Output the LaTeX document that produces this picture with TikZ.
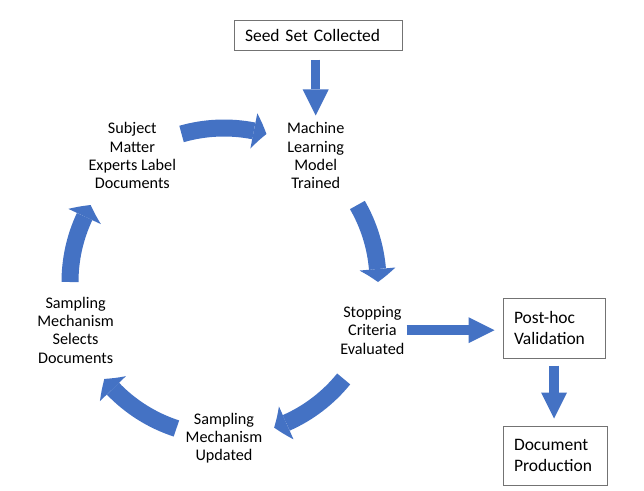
\documentclass[tikz,border=0pt]{standalone}
\usepackage{fontspec}
\setmainfont{Carlito}
\usetikzlibrary{arrows.meta,bending}
\definecolor{officeblue}{HTML}{4472C4}
\begin{document}
\begin{tikzpicture}[x=1pt,y=1pt,
    cyclabel/.style={align=center,inner sep=2pt,font=\fontsize{16.2}{18.3}\selectfont},
    stagebox/.style={draw=black!55,line width=1pt,align=left,inner xsep=11pt,
        font=\fontsize{17.5}{21}\selectfont},
    cyc/.style={officeblue,line width=17pt,
        -{Triangle[width=36pt,length=13pt,line width=0pt,bend]}},
    flow/.style={officeblue,line width=9.5pt,
        -{Triangle[width=26pt,length=26pt,line width=0pt]}}]
        \useasboundingbox (0,0) rectangle (644,-490);
        \coordinate (hub) at (224,-282);
        % cycle stages
        \node[cyclabel] (ml)   at ([shift={(54:156pt)}]hub)  {Machine\\Learning\\Model\\Trained};
        \node[cyclabel] (stop) at ([shift={(-18:156pt)}]hub) {Stopping\\Criteria\\Evaluated};
        \node[cyclabel] (upd)  at ([shift={(-90:156pt)}]hub) {Sampling\\Mechanism\\Updated};
        \node[cyclabel] (sel)  at ([shift={(198:156pt)}]hub) {Sampling\\Mechanism\\Selects\\Documents};
        \node[cyclabel] (sme)  at ([shift={(126:156pt)}]hub) {Subject\\Matter\\Experts Label\\Documents};
        % boxes
        \node[stagebox,text width=146pt,minimum height=30pt] (seed) at (318,-35) {Seed Set Collected};
        \node[stagebox,text width=80pt,minimum height=60pt] (post) at (554,-328) {Post-hoc\\Validation};
        \node[stagebox,text width=82pt,minimum height=59pt] (doc) at (555,-455.5) {Document\\Production};
        % round arrows
        \draw[cyc] ([shift={(106:154pt)}]hub) arc[start angle=106,end angle=74,radius=154pt];
        \draw[cyc] ([shift={(30:154pt)}]hub) arc[start angle=30,end angle=0,radius=154pt];
        \draw[cyc] ([shift={(-39:154pt)}]hub) arc[start angle=-39,end angle=-71,radius=154pt];
        \draw[cyc] ([shift={(-108:154pt)}]hub) arc[start angle=-108,end angle=-141,radius=154pt];
        \draw[cyc] ([shift={(180:154pt)}]hub) arc[start angle=180,end angle=150,radius=154pt];
        % straight arrows
        \draw[flow,shorten <=9pt,shorten >=5pt] (seed.south -| ml.north) -- (ml.north);
        \draw[flow,shorten >=8pt] (stop.east) -- (stop.east -| post.west);
        \draw[flow,shorten <=7pt,shorten >=7pt] (post.south) -- (post.south |- doc.north);
%        \draw[help lines] (hub) circle (154pt);
    \end{tikzpicture}
\end{document}
